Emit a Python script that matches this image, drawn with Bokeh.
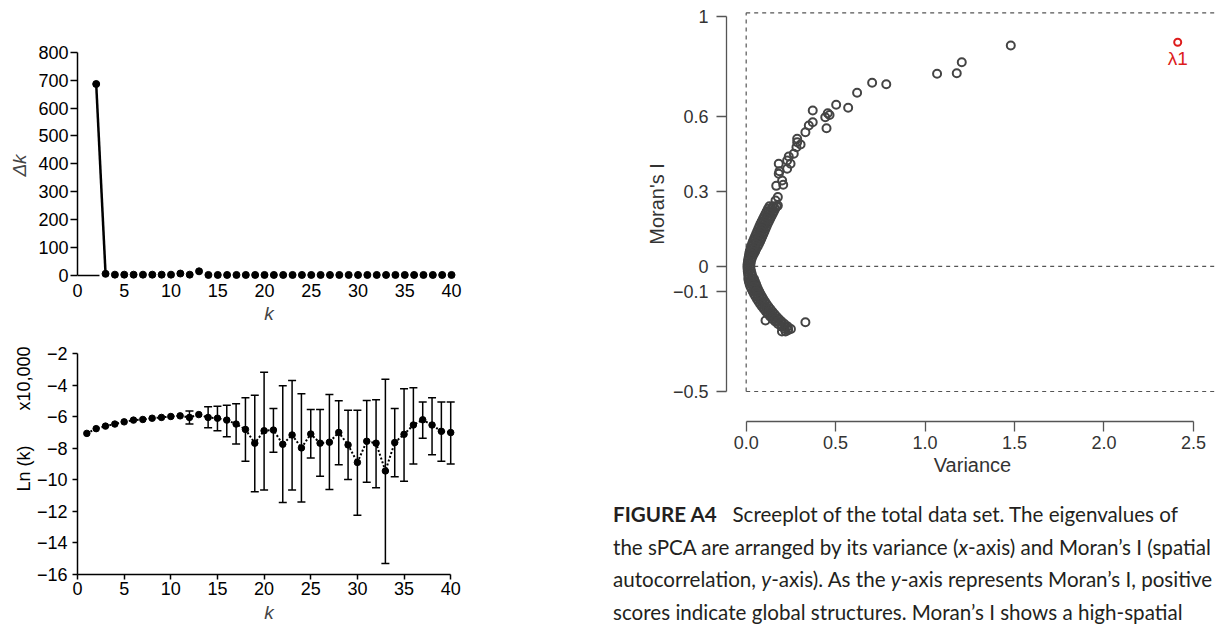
from bokeh.plotting import figure
from bokeh.models import (ColumnDataSource, Whisker, TeeHead, FixedTicker, Div,
                          NumeralTickFormatter, Range1d)
from bokeh.layouts import row, column
from bokeh.embed import file_html
from bokeh.resources import INLINE

FONT = "Liberation Sans"
NB = "\u00a0"

# ---------------- data: top-left panel (delta k) ----------------
k_top = [2, 3, 4, 5, 6, 7, 8, 9, 10, 11, 12, 13, 14, 15, 16, 17, 18, 19, 20, 21,
         22, 23, 24, 25, 26, 27, 28, 29, 30, 31, 32, 33, 34, 35, 36, 37, 38, 39, 40]
delta_k = [686, 6, 3, 3, 3, 3, 3, 3, 3, 7, 3, 15, 2, 2, 2, 2, 2, 2, 2, 2,
           2, 2, 2, 2, 2, 2, 2, 2, 2, 2, 2, 2, 2, 2, 2, 2, 2, 2, 2]
base_k = [0, 2.35]
base_v = [0, 0]
top_yticks = [0, 100, 200, 300, 400, 500, 600, 700, 800]
k_ticks = [0, 5, 10, 15, 20, 25, 30, 35, 40]

# ---------------- data: bottom-left panel (Ln k) ----------------
k_ln = [1, 2, 3, 4, 5, 6, 7, 8, 9, 10, 11, 12, 13, 14, 15, 16, 17, 18, 19, 20,
        21, 22, 23, 24, 25, 26, 27, 28, 29, 30, 31, 32, 33, 34, 35, 36, 37, 38, 39, 40]
ln_mean = [-7.06, -6.76, -6.60, -6.47, -6.33, -6.22, -6.18, -6.10, -6.05, -5.99,
           -5.95, -6.05, -5.87, -6.05, -6.10, -6.22, -6.47, -6.81, -7.68, -6.89,
           -6.85, -7.75, -7.16, -7.98, -7.10, -7.68, -7.62, -7.00, -7.79, -8.90,
           -7.56, -7.68, -9.44, -7.64, -7.12, -6.53, -6.20, -6.53, -6.93, -7.01]
k_err = [12, 14, 15, 16, 17, 18, 19, 20, 21, 22, 23, 24, 25, 26, 27, 28, 29, 30,
         31, 32, 33, 34, 35, 36, 37, 38, 39, 40]
err_upper = [-5.64, -5.38, -5.34, -5.28, -5.18, -4.80, -4.65, -3.19, -5.49, -4.05,
             -3.71, -4.55, -5.55, -5.55, -4.59, -5.00, -5.59, -5.59, -4.97, -4.93,
             -3.63, -5.49, -4.24, -4.17, -5.07, -4.80, -5.07, -5.07]
err_lower = [-6.47, -6.70, -6.89, -7.27, -7.73, -8.83, -10.75, -10.65, -8.25, -11.44,
             -10.65, -11.40, -8.62, -9.77, -10.61, -9.04, -9.98, -12.24, -10.15, -10.50,
             -15.31, -9.81, -10.09, -9.00, -7.37, -8.41, -8.83, -9.00]
ln_yticks = [-16, -14, -12, -10, -8, -6, -4, -2]
ln_ytick_labels = {-16: "−16", -14: "−14", -12: "−12", -10: "−10",
                   -8: "−8", -6: "−6", -4: "−4", -2: "−2"}

# ---------------- data: right panel (sPCA screeplot) ----------------
var_sparse = [1.479, 1.205, 1.177, 1.067, 0.783, 0.704, 0.620, 0.570, 0.503, 0.466,
              0.456, 0.442, 0.449, 0.372, 0.372, 0.350, 0.331, 0.304, 0.285, 0.285,
              0.281, 0.266, 0.238, 0.229, 0.248, 0.182, 0.229, 0.186, 0.182, 0.201,
              0.207, 0.168, 0.177, 0.164, 0.177, 0.331]
moran_sparse = [0.883, 0.816, 0.772, 0.770, 0.728, 0.734, 0.694, 0.634, 0.646, 0.605,
                0.612, 0.596, 0.552, 0.623, 0.576, 0.563, 0.536, 0.487, 0.510, 0.496,
                0.476, 0.450, 0.439, 0.423, 0.410, 0.410, 0.390, 0.380, 0.370, 0.343,
                0.326, 0.322, 0.277, 0.263, 0.243, -0.223]
var_band = [0.130, 0.170, 0.122, 0.162, 0.115, 0.155, 0.108, 0.148, 0.101, 0.141,
            0.094, 0.134, 0.087, 0.127, 0.080, 0.120, 0.074, 0.114, 0.068, 0.108,
            0.062, 0.102, 0.056, 0.096, 0.050, 0.090, 0.044, 0.084, 0.038, 0.078,
            0.033, 0.071, 0.028, 0.064, 0.024, 0.056, 0.020, 0.050, 0.017, 0.043,
            0.015, 0.035, 0.012, 0.030, 0.010, 0.026, 0.008, 0.024, 0.007, 0.023,
            0.008, 0.024, 0.009, 0.027, 0.011, 0.031, 0.013, 0.035,
            0.012, 0.044, 0.015, 0.049, 0.019, 0.055, 0.024, 0.060, 0.030, 0.066,
            0.037, 0.073, 0.044, 0.080, 0.052, 0.088, 0.060, 0.096, 0.069, 0.105,
            0.078, 0.114, 0.088, 0.124, 0.099, 0.135, 0.110, 0.146, 0.122, 0.158,
            0.134, 0.170, 0.147, 0.183, 0.162, 0.198, 0.178, 0.214, 0.196, 0.232,
            0.216, 0.250, 0.234, 0.200, 0.220, 0.108,
            0.150, 0.142, 0.135, 0.128, 0.121, 0.114, 0.107, 0.100, 0.094, 0.088,
            0.082, 0.076, 0.070, 0.064, 0.058, 0.052, 0.046, 0.040, 0.035, 0.030,
            0.028, 0.032, 0.037, 0.042, 0.048, 0.055, 0.062, 0.070, 0.078, 0.087,
            0.096, 0.106, 0.117, 0.128, 0.140, 0.152, 0.165, 0.180, 0.196, 0.214,
            0.234]
moran_band = [0.24, 0.24, 0.23, 0.23, 0.22, 0.22, 0.21, 0.21, 0.20, 0.20,
              0.19, 0.19, 0.18, 0.18, 0.17, 0.17, 0.16, 0.16, 0.15, 0.15,
              0.14, 0.14, 0.13, 0.13, 0.12, 0.12, 0.11, 0.11, 0.10, 0.10,
              0.09, 0.09, 0.08, 0.08, 0.07, 0.07, 0.06, 0.06, 0.05, 0.05,
              0.04, 0.04, 0.03, 0.03, 0.02, 0.02, 0.01, 0.01, 0.00, 0.00,
              -0.01, -0.01, -0.02, -0.02, -0.03, -0.03, -0.04, -0.04,
              -0.05, -0.05, -0.06, -0.06, -0.07, -0.07, -0.08, -0.08, -0.09, -0.09,
              -0.10, -0.10, -0.11, -0.11, -0.12, -0.12, -0.13, -0.13, -0.14, -0.14,
              -0.15, -0.15, -0.16, -0.16, -0.17, -0.17, -0.18, -0.18, -0.19, -0.19,
              -0.20, -0.20, -0.21, -0.21, -0.22, -0.22, -0.23, -0.23, -0.24, -0.24,
              -0.25, -0.25, -0.255, -0.26, -0.26, -0.216,
              0.24, 0.23, 0.22, 0.21, 0.20, 0.19, 0.18, 0.17, 0.16, 0.15,
              0.14, 0.13, 0.12, 0.11, 0.10, 0.09, 0.08, 0.07, 0.06, 0.05,
              -0.05, -0.06, -0.07, -0.08, -0.09, -0.10, -0.11, -0.12, -0.13, -0.14,
              -0.15, -0.16, -0.17, -0.18, -0.19, -0.20, -0.21, -0.22, -0.23, -0.24,
              -0.25]
lambda1_var = [2.412]
lambda1_moran = [0.896]
lambda1_label_y = [0.830]
lambda1_text = ["λ1"]
box_left = 0.0
box_bottom = -0.5
box_top = 1.0136
box_hlines = [-0.5, 0.0, 1.0136]
var_ticks = [0.0, 0.5, 1.0, 1.5, 2.0, 2.5]
moran_ticks = [-0.5, -0.1, 0.0, 0.3, 0.6, 1.0]
moran_tick_labels = {-0.5: "−0.5", -0.1: "−0.1", 0.0: "0", 0.3: "0.3", 0.6: "0.6", 1.0: "1"}

TICK_FS = "18px"


def base_style(p):
    p.xgrid.visible = False
    p.ygrid.visible = False
    p.outline_line_color = None
    p.background_fill_color = "white"
    p.border_fill_color = "white"
    for ax in (p.xaxis, p.yaxis):
        ax.minor_tick_line_color = None
        ax.major_label_text_font = FONT
        ax.axis_label_text_font = FONT
        ax.major_tick_in = 0
        ax.major_label_text_font_size = TICK_FS


# ---------------- top-left figure ----------------
p1 = figure(width=568, height=330, title=None, x_range=Range1d(0, 40.96),
            y_range=Range1d(-21.5, 809.6), output_backend="svg", toolbar_location=None,
            min_border_left=77, min_border_right=108, min_border_top=49, min_border_bottom=49)
base_style(p1)
p1.line(base_k, base_v, line_color="black", line_width=1.5)
p1.line(k_top[:2], delta_k[:2], line_color="black", line_width=2.5)
p1.scatter(k_top, delta_k, size=7, color="black")
p1.yaxis.ticker = FixedTicker(ticks=top_yticks)
p1.yaxis.bounds = (0, 800)
p1.yaxis.major_tick_out = 7
p1.yaxis.axis_line_width = 1.5
p1.yaxis.major_tick_line_width = 1.5
p1.yaxis.major_label_standoff = 2
p1.yaxis.major_label_text_color = "black"
p1.yaxis.axis_label = "Δk"
p1.yaxis.axis_label_text_font_style = "italic"
p1.yaxis.axis_label_text_font_size = "19px"
p1.yaxis.axis_label_standoff = 5
p1.xaxis.ticker = FixedTicker(ticks=k_ticks)
p1.xaxis.axis_line_color = None
p1.xaxis.major_tick_line_color = None
p1.xaxis.major_tick_out = 0
p1.xaxis.major_label_standoff = 2
p1.xaxis.major_label_text_color = "black"
p1.xaxis.axis_label = "k"
p1.xaxis.axis_label_text_font_style = "italic"
p1.xaxis.axis_label_text_font_size = "19px"
p1.xaxis.axis_label_standoff = 3

# ---------------- bottom-left figure ----------------
p2 = figure(width=568, height=295, title=None, x_range=Range1d(0, 41.05),
            y_range=Range1d(-16, -2), output_backend="svg", toolbar_location=None,
            min_border_left=77, min_border_right=99, min_border_top=23, min_border_bottom=49)
base_style(p2)
p2.line(k_ln, ln_mean, line_color="black", line_width=2, line_dash="2 2")
err_src = ColumnDataSource(dict(k=k_err, upper=err_upper, lower=err_lower))
p2.add_layout(Whisker(source=err_src, base="k", upper="upper", lower="lower",
                      dimension="height", line_color="black", line_width=1.5,
                      upper_head=TeeHead(size=8, line_color="black", line_width=1.5),
                      lower_head=TeeHead(size=8, line_color="black", line_width=1.5)))
p2.scatter(k_ln, ln_mean, size=6.5, color="black")
p2.yaxis.ticker = FixedTicker(ticks=ln_yticks)
p2.yaxis.major_label_overrides = ln_ytick_labels
p2.yaxis.bounds = (-16, -2)
p2.yaxis.major_tick_out = 5
p2.yaxis.axis_line_width = 1.5
p2.yaxis.major_tick_line_width = 1.5
p2.yaxis.major_label_standoff = 5
p2.yaxis.major_label_text_color = "black"
p2.yaxis.axis_label = NB * 18 + "Ln (k)" + NB * 7 + "x10,000"
p2.yaxis.axis_label_text_font_style = "normal"
p2.yaxis.axis_label_text_font_size = "18px"
p2.yaxis.axis_label_text_color = "black"
p2.yaxis.axis_label_standoff = 0
p2.xaxis.ticker = FixedTicker(ticks=k_ticks)
p2.xaxis.bounds = (0, 40)
p2.xaxis.major_tick_out = 5
p2.xaxis.axis_line_width = 1.5
p2.xaxis.major_tick_line_width = 1.5
p2.xaxis.major_label_standoff = 2
p2.xaxis.major_label_text_color = "black"
p2.xaxis.axis_label = "k"
p2.xaxis.axis_label_text_font_style = "italic"
p2.xaxis.axis_label_text_font_size = "19px"
p2.xaxis.axis_label_standoff = 4

# ---------------- right figure ----------------
p3 = figure(width=650, height=483, title=None, x_range=Range1d(-0.110, 2.640),
            y_range=Range1d(-0.6199, 1.0308), output_backend="svg", toolbar_location=None,
            min_border_left=158, min_border_right=0, min_border_top=8, min_border_bottom=62)
base_style(p3)
p3.segment(x0=[box_left], y0=[box_bottom], x1=[box_left], y1=[box_top],
           line_color="#555555", line_width=1.2, line_dash="4 4")
p3.segment(x0=[box_left] * 3, y0=box_hlines, x1=[3.0] * 3, y1=box_hlines,
           line_color="#555555", line_width=1.2, line_dash="4 4")
p3.scatter(var_band, moran_band, size=8, fill_color=None, line_color="#444444", line_width=2)
p3.scatter(var_sparse, moran_sparse, size=8, fill_color=None, line_color="#444444", line_width=2)
p3.scatter(lambda1_var, lambda1_moran, size=7, fill_color=None, line_color="#dd1c1c", line_width=2)
p3.text(x=lambda1_var, y=lambda1_label_y, text=lambda1_text, text_align="center",
        text_baseline="middle", text_font_size="19px", text_color="#dd1c1c",
        text_font={"value": FONT})
p3.yaxis.ticker = FixedTicker(ticks=moran_ticks)
p3.yaxis.major_label_overrides = moran_tick_labels
p3.yaxis.bounds = (-0.5, 1.0)
p3.yaxis.major_tick_out = 10
p3.yaxis.axis_line_color = "#555555"
p3.yaxis.major_tick_line_color = "#555555"
p3.yaxis.axis_line_width = 1.3
p3.yaxis.major_tick_line_width = 1.3
p3.yaxis.major_label_standoff = 8
p3.yaxis.major_label_text_color = "#333333"
p3.yaxis.axis_label = NB * 4 + "Moran's I"
p3.yaxis.axis_label_text_font_style = "normal"
p3.yaxis.axis_label_text_font_size = "20px"
p3.yaxis.axis_label_text_color = "#333333"
p3.yaxis.axis_label_standoff = 2
p3.xaxis.ticker = FixedTicker(ticks=var_ticks)
p3.xaxis.formatter = NumeralTickFormatter(format="0.0")
p3.xaxis.bounds = (0, 2.5)
p3.xaxis.major_tick_out = 10
p3.xaxis.axis_line_color = "#555555"
p3.xaxis.major_tick_line_color = "#555555"
p3.xaxis.axis_line_width = 1.3
p3.xaxis.major_tick_line_width = 1.3
p3.xaxis.major_label_standoff = 4
p3.xaxis.major_label_text_color = "#333333"
p3.xaxis.axis_label = "Variance"
p3.xaxis.axis_label_text_font_style = "normal"
p3.xaxis.axis_label_text_font_size = "20px"
p3.xaxis.axis_label_text_color = "#333333"
p3.xaxis.axis_label_standoff = 2

# ---------------- caption ----------------
caption_html = (
    '<div style="font-family: Lato, sans-serif; font-size: 20.6px; line-height: 32.7px; '
    'color: #231f20; white-space: nowrap; padding-left: 45px; padding-top: 15px;">'
    '<b>FIGURE A4</b>&nbsp;&nbsp; Screeplot of the total data set. The eigenvalues of<br>'
    'the sPCA are arranged by its variance (<i>x</i>-axis) and Moran’s I (spatial<br>'
    'autocorrelation, <i>y</i>-axis). As the <i>y</i>-axis represents Moran’s I, positive<br>'
    'scores indicate global structures. Moran’s I shows a high-spatial'
    '</div>'
)
cap = Div(text=caption_html, width=650, height=142, margin=0,
          styles={"overflow": "hidden"})

layout = row(column(p1, p2, spacing=0), column(p3, cap, spacing=0), spacing=0)
open("out.html", "w").write(file_html(layout, INLINE))
